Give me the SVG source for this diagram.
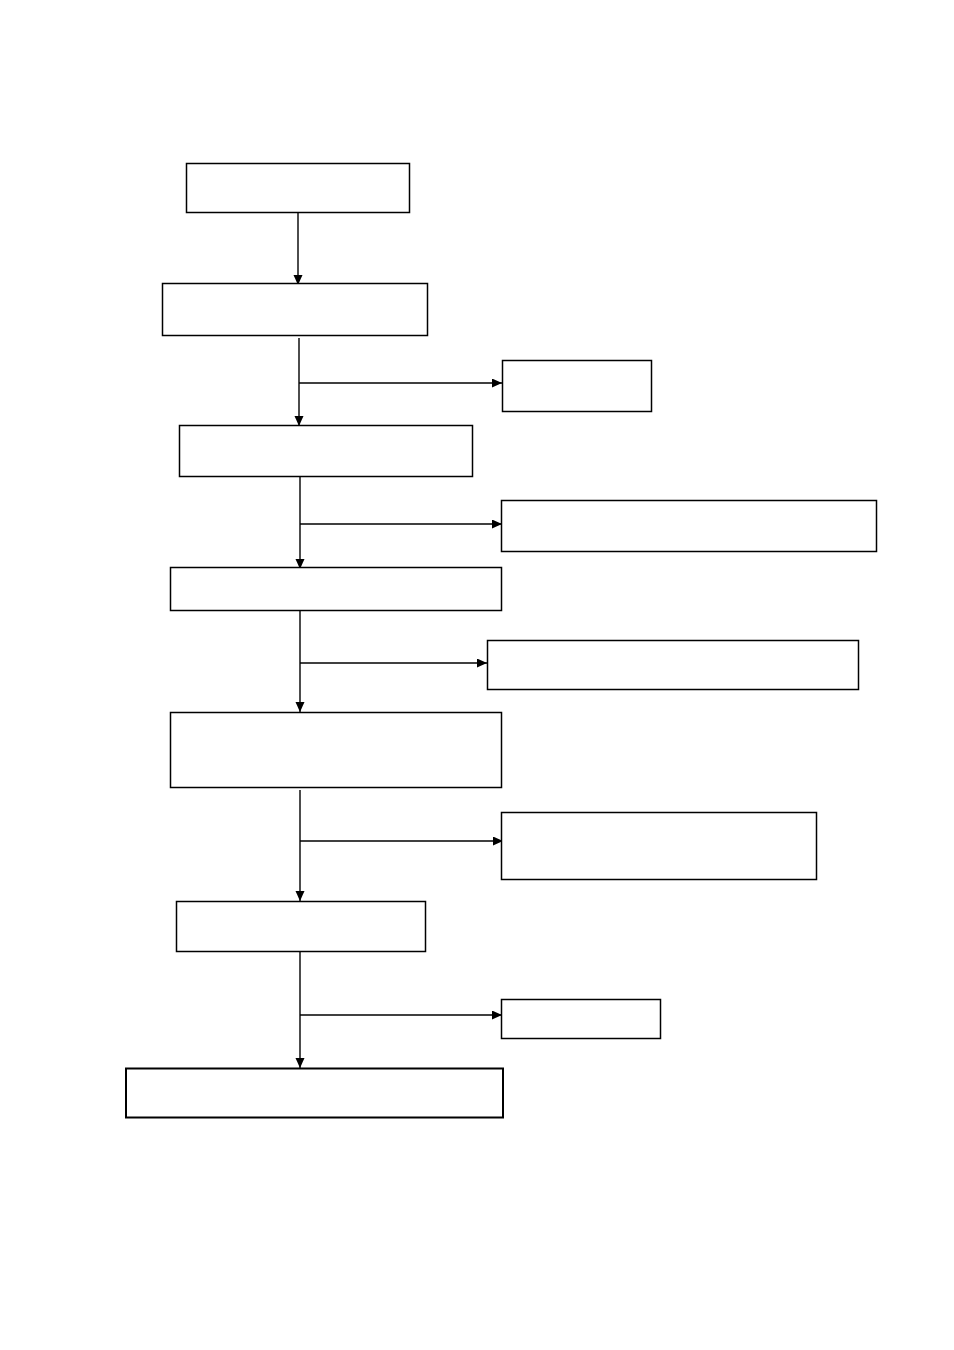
<svg xmlns="http://www.w3.org/2000/svg" width="954" height="1350" viewBox="0 0 954 1350">
<style>
.box{fill:#fff;stroke:#000;stroke-width:1.5}
.thick{stroke-width:2}
.ln{fill:none;stroke:#000;stroke-width:1.4}
</style>
<defs>
<marker id="ah" markerWidth="11" markerHeight="10" refX="10" refY="4.5" orient="auto" markerUnits="userSpaceOnUse">
<path d="M0,0 L10,4.5 L0,9 Z" fill="#000"/>
</marker>
</defs>
<rect width="954" height="1350" fill="#fff"/>
<g id="connectors">
<line class="ln" x1="298" y1="212" x2="298" y2="285" marker-end="url(#ah)"/>
<line class="ln" x1="299" y1="338" x2="299" y2="426" marker-end="url(#ah)"/>
<line class="ln" x1="299" y1="383" x2="502" y2="383" marker-end="url(#ah)"/>
<line class="ln" x1="300" y1="477" x2="300" y2="569" marker-end="url(#ah)"/>
<line class="ln" x1="300" y1="524" x2="502" y2="524" marker-end="url(#ah)"/>
<line class="ln" x1="300" y1="611" x2="300" y2="712" marker-end="url(#ah)"/>
<line class="ln" x1="300" y1="663" x2="487" y2="663" marker-end="url(#ah)"/>
<line class="ln" x1="300" y1="790" x2="300" y2="901" marker-end="url(#ah)"/>
<line class="ln" x1="300" y1="841" x2="503" y2="841" marker-end="url(#ah)"/>
<line class="ln" x1="300" y1="951" x2="300" y2="1068" marker-end="url(#ah)"/>
<line class="ln" x1="300" y1="1015" x2="502" y2="1015" marker-end="url(#ah)"/>
</g>
<g id="nodeA"><rect class="box" x="186.5" y="163.5" width="223" height="49"/></g>
<g id="nodeB"><rect class="box" x="162.5" y="283.5" width="265" height="52"/></g>
<g id="nodeC"><rect class="box" x="502.5" y="360.5" width="149" height="51"/></g>
<g id="nodeD"><rect class="box" x="179.5" y="425.5" width="293" height="51"/></g>
<g id="nodeE"><rect class="box" x="501.5" y="500.5" width="375" height="51"/></g>
<g id="nodeF"><rect class="box" x="170.5" y="567.5" width="331" height="43"/></g>
<g id="nodeG"><rect class="box" x="487.5" y="640.5" width="371" height="49"/></g>
<g id="nodeH"><rect class="box" x="170.5" y="712.5" width="331" height="75"/></g>
<g id="nodeI"><rect class="box" x="501.5" y="812.5" width="315" height="67"/></g>
<g id="nodeJ"><rect class="box" x="176.5" y="901.5" width="249" height="50"/></g>
<g id="nodeK"><rect class="box" x="501.5" y="999.5" width="159" height="39"/></g>
<g id="nodeL"><rect class="box thick" x="126" y="1068.5" width="377" height="49"/></g>
</svg>
